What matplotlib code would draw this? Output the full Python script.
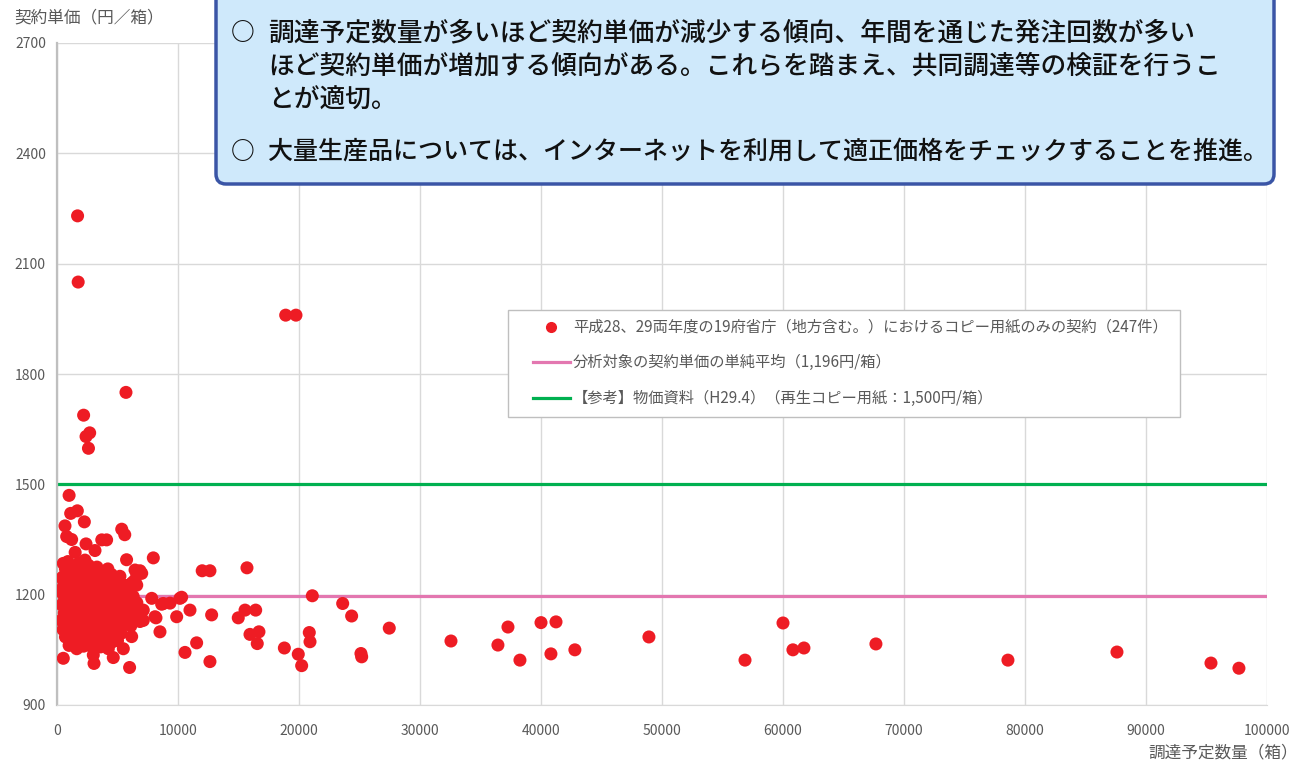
import numpy as np
import matplotlib
matplotlib.use("Agg")
import matplotlib.pyplot as plt
from matplotlib.patches import FancyBboxPatch, Rectangle

plt.rcParams['font.family'] = ['Noto Sans CJK JP', 'DejaVu Sans']

# (調達予定数量, 契約単価)
high_points = [
    (1700, 2230), (1750, 2050), (18900, 1960), (19750, 1960), (5700, 1750),
    (2200, 1688), (2700, 1640), (2400, 1630), (2600, 1598),
]
upper_points = [
    (1000, 1470), (1130, 1421), (1680, 1428), (2260, 1398), (660, 1387),
    (800, 1358), (1210, 1350), (2400, 1338), (3700, 1349), (4100, 1349),
    (5350, 1378), (5600, 1363), (3140, 1320), (1500, 1315), (5750, 1295),
    (520, 1285), (2310, 1294), (6450, 1267), (7960, 1300), (6860, 1265),
    (6590, 1258), (7000, 1258), (6450, 1240), (6590, 1226), (6280, 1234),
    (12000, 1265), (12640, 1265), (15700, 1273), (520, 1249), (520, 1222),
    (470, 1203),
]
cluster_points = [
    (900, 1290), (1800, 1285), (2600, 1280), (3300, 1275), (4200, 1270),
    (700, 1270), (1300, 1265), (2000, 1268), (2800, 1262), (3600, 1258),
    (4500, 1255), (5200, 1250), (400, 1245), (1100, 1248), (1600, 1240),
    (2300, 1245), (3000, 1240), (3800, 1236), (4300, 1230), (5000, 1238),
    (5700, 1225), (800, 1228), (1400, 1225), (1900, 1232), (2500, 1222),
    (3200, 1220), (3500, 1228), (4000, 1215), (4700, 1218), (5400, 1212),
    (6000, 1210), (350, 1212), (600, 1205), (1000, 1208), (1500, 1200),
    (2100, 1210), (2700, 1205), (3300, 1200), (3700, 1195), (4400, 1200),
    (4900, 1195), (5600, 1190), (6300, 1195), (700, 1188), (1200, 1185),
    (1800, 1190), (2400, 1182), (2900, 1188), (3500, 1180), (4100, 1178),
    (4600, 1185), (5200, 1175), (5900, 1182), (6600, 1178), (400, 1172),
    (900, 1168), (1400, 1165), (2000, 1170), (2600, 1162), (3100, 1168),
    (3800, 1160), (4300, 1155), (4900, 1165), (5500, 1160), (6200, 1150),
    (600, 1150), (1100, 1145), (1700, 1148), (2200, 1142), (2800, 1140),
    (3400, 1145), (4000, 1138), (4600, 1142), (5100, 1135), (5800, 1138),
    (350, 1130), (800, 1128), (1300, 1125), (1900, 1122), (2500, 1128),
    (3000, 1118), (3600, 1120), (4200, 1115), (4800, 1112), (5400, 1118),
    (6100, 1115), (500, 1105), (1000, 1100), (1600, 1108), (2300, 1102),
    (2900, 1098), (3500, 1095), (4100, 1092), (4700, 1100), (5300, 1095),
    (700, 1085), (1300, 1082), (2000, 1080), (2600, 1078), (3200, 1075),
    (3900, 1072), (4500, 1070), (5000, 1075), (1000, 1062), (2200, 1060),
    (3600, 1058), (1550, 1215), (2450, 1195), (3050, 1210), (3850, 1200),
    (1250, 1160), (2750, 1175), (3250, 1150), (4450, 1165), (1750, 1128),
    (2150, 1120), (3750, 1135), (4950, 1150), (650, 1240), (1150, 1230),
    (2850, 1248), (3450, 1260), (4150, 1245), (550, 1180), (850, 1140),
    (1950, 1100), (3350, 1108), (4350, 1125), (5650, 1170), (6400, 1130),
    (5000, 1205), (2050, 1255),
    (520, 1027), (1630, 1053), (2870, 1059), (3000, 1036), (3060, 1013),
    (4240, 1053), (4650, 1029), (5480, 1053), (6000, 1002), (6170, 1231),
]
mid_points = [
    (7830, 1190), (8790, 1176), (9340, 1177), (10160, 1190), (10300, 1193),
    (9890, 1140), (10990, 1158), (12780, 1145), (8100, 1140), (6860, 1127),
    (8510, 1099), (11540, 1069), (10580, 1043), (12640, 1018), (6170, 1086),
    (7130, 1158), (6450, 1154), (6170, 1172), (8650, 1174), (8180, 1137),
    (7130, 1130), (21100, 1197), (15540, 1158), (16420, 1158), (14980, 1137),
    (15950, 1092), (16690, 1099), (16550, 1067), (20850, 1097), (20910, 1072),
    (18790, 1055), (19940, 1038), (20220, 1007), (23610, 1176), (24350, 1142),
    (27460, 1109), (25120, 1040), (25180, 1031),
]
large_points = [
    (32560, 1074), (36440, 1063), (37270, 1112), (38260, 1022), (40000, 1124),
    (41240, 1126), (40820, 1039), (42800, 1050), (48920, 1085), (56860, 1022),
    (60000, 1123), (60820, 1050), (61730, 1055), (67680, 1066), (78590, 1022),
    (87600, 1044), (95370, 1014), (97680, 1000),
]

avg_price = 1196
ref_price = 1500
x_range = [0, 100000]

labels = [
    "平成28、29両年度の19府省庁（地方含む。）におけるコピー用紙のみの契約（247件）",
    "分析対象の契約単価の単純平均（1,196円/箱）",
    "【参考】物価資料（H29.4）（再生コピー用紙：1,500円/箱）",
]
box_lines = [
    "調達予定数量が多いほど契約単価が減少する傾向、年間を通じた発注回数が多い",
    "ほど契約単価が増加する傾向がある。これらを踏まえ、共同調達等の検証を行うこ",
    "とが適切。",
]
box_line2 = "大量生産品については、インターネットを利用して適正価格をチェックすることを推進。"

pts = np.array(high_points + upper_points + cluster_points + mid_points + large_points)

W, H = 1301, 762
fig = plt.figure(figsize=(W / 100, H / 100), dpi=100)
ax = fig.add_axes([57 / W, 1 - 705 / H, (1267 - 57) / W, (705 - 43) / H])

grey = '#595959'
red = '#ee1c24'
pink = '#e377b0'
green = '#00b050'
ax.plot(x_range, [ref_price, ref_price], color=green, lw=2.3, zorder=2)
ax.plot(x_range, [avg_price, avg_price], color=pink, lw=2.3, zorder=2)
ax.scatter(pts[:, 0], pts[:, 1], s=88, color=red, edgecolors='none', zorder=3)

ax.set_xlim(0, 100000)
ax.set_ylim(900, 2700)
ax.set_xticks(np.arange(0, 100001, 10000))
ax.set_yticks(np.arange(900, 2701, 300))
ax.grid(True, color='#d9d9d9', lw=1)
ax.set_axisbelow(True)
for s in ['top', 'right']:
    ax.spines[s].set_visible(False)
ax.spines['left'].set_color('#bfbfbf')
ax.spines['left'].set_linewidth(1.6)
ax.spines['bottom'].set_color('#d9d9d9')
ax.tick_params(length=0, labelsize=10, labelcolor=grey)
ax.tick_params(axis='x', pad=14)
ax.tick_params(axis='y', pad=8)

# overlay in pixel coordinates for legend, note box and axis titles
ov = fig.add_axes([0, 0, 1, 1], zorder=10)
ov.set_xlim(0, W)
ov.set_ylim(H, 0)
ov.axis('off')

ov.text(14, 18, "契約単価（円／箱）", fontsize=12, color=grey, va='center', ha='left')
ov.text(1298, 753, "調達予定数量（箱）", fontsize=12, color=grey, va='center', ha='right')

# legend
ov.add_patch(Rectangle((508, 310), 672, 107, facecolor='white', edgecolor='#bfbfbf', lw=1))
ov.plot([551], [327], marker='o', ms=7, color=red, ls='none')
ov.plot([533, 570], [362, 362], color=pink, lw=2.3)
ov.plot([533, 570], [398, 398], color=green, lw=2.3)
for yy, lab in zip([327, 362, 398], labels):
    ov.text(573, yy, lab, fontsize=11, color=grey, va='center', ha='left')

# note box
box = FancyBboxPatch((216, -20), 1058, 204, boxstyle="round,pad=0,rounding_size=10",
                     facecolor='#cfe9fb', edgecolor='#3a55a6', lw=2.5)
ov.add_patch(box)
ov.text(231, 33, "○", fontsize=17, fontweight='bold', va='center', ha='left', color='#111111')
for i, line in enumerate(box_lines):
    ov.text(268, 33 + i * 33.5, line, fontsize=18.5, fontweight='medium',
            va='center', ha='left', color='#111111')
ov.text(231, 152, "○", fontsize=17, fontweight='bold', va='center', ha='left', color='#111111')
ov.text(268, 152, box_line2, fontsize=18, fontweight='medium',
        va='center', ha='left', color='#111111')

fig.savefig("out.png", dpi=100)
